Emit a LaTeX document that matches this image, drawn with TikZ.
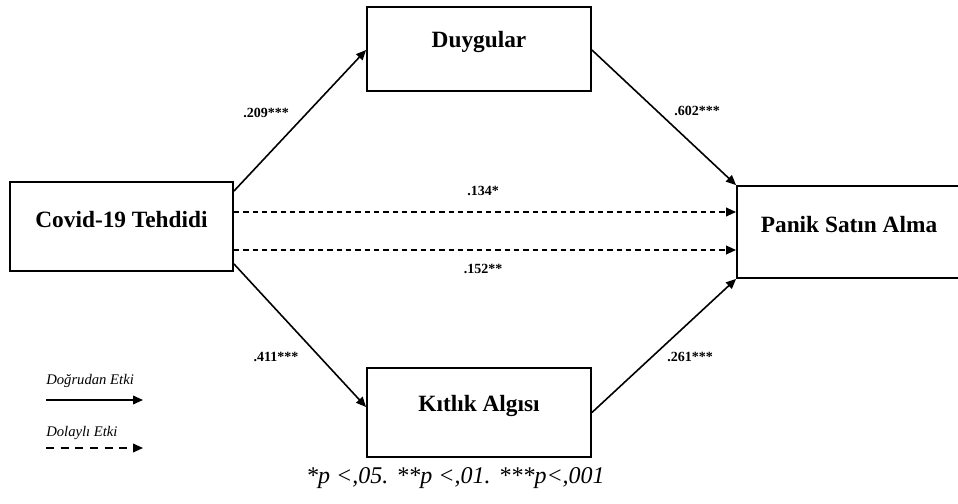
\documentclass[tikz,border=0pt]{standalone}
\usepackage{fontspec}
\setmainfont{Liberation Serif}
\usetikzlibrary{arrows.meta,calc}
\tikzset{
  box/.style={draw, line width=1.4pt, rectangle, inner sep=0pt},
  boxtext/.style={font=\bfseries\fontsize{17.5}{20}\selectfont, inner sep=0pt},
  coef/.style={font=\bfseries\fontsize{10.5}{12}\selectfont, inner sep=0pt},
  legtext/.style={font=\itshape\fontsize{11}{13}\selectfont, inner sep=0pt, anchor=west},
  headtip/.tip={Triangle[length=7.5pt,width=6.5pt]},
  solidarrow/.style={line width=1.2pt, -headtip},
  dasharrow/.style={line width=1.3pt, dash pattern=on 4pt off 3pt, -headtip},
  legdash/.style={line width=1.3pt, dash pattern=on 6pt off 5pt, -headtip}
}
\begin{document}
\begin{tikzpicture}[x=0.75pt,y=-0.75pt]
\useasboundingbox (0,0) rectangle (958,504);
\clip (0,0) rectangle (958,504);
\fill[white] (0,0) rectangle (958,504);

% boxes
\node[box, minimum width=167.25pt, minimum height=66.75pt] (cov) at (121.5,226.5) {};
\node[box, minimum width=168pt, minimum height=63pt] (duy) at (479,49) {};
\node[box, minimum width=168pt, minimum height=66.75pt] (kit) at (479,412.5) {};
\node[box, minimum width=168pt, minimum height=69pt] (pan) at (849,232) {};

% box texts
\node[boxtext] (covt) at (121.5,219.5) {Covid-19 Tehdidi};
\node[boxtext] (duyt) at (479,42) {Duygular};
\node[boxtext] (kitt) at (479,405.5) {Kıtlık Algısı};
\node[boxtext] (pant) at (849,225) {Panik Satın Alma};

% direct paths
\draw[solidarrow] ($(cov.north east)+(0,10)$) -- ($(duy.west)+(0,1)$);
\draw[solidarrow] ($(duy.east)+(0,1)$) -- (pan.north west);
\draw[solidarrow] ($(cov.south east)+(0,-8)$) -- ($(kit.west)+(0,-5.5)$);
\draw[solidarrow] (kit.east) -- (pan.south west);

% dashed paths
\coordinate (d1s) at ($(cov.east)+(0,-14.5)$);
\coordinate (d2s) at ($(cov.east)+(0,23.5)$);
\draw[dasharrow] (d1s) -- (pan.west |- d1s);
\draw[dasharrow] (d2s) -- (pan.west |- d2s);

% coefficients
\node[coef] (c1) at (266,113) {.209***};
\node[coef] (c2) at (697,111) {.602***};
\node[coef] (c3) at (483,191) {.134*};
\node[coef] (c4) at (483,269) {.152**};
\node[coef] (c5) at (276,357) {.411***};
\node[coef] (c6) at (690,357) {.261***};

% legend
\node[legtext] (l1) at (46,381) {Doğrudan Etki};
\coordinate (l1a) at (46,400);
\coordinate (l1b) at (143,400);
\draw[solidarrow] (l1a) -- (l1b);
\node[legtext] (l2) at (46,433) {Dolaylı Etki};
\coordinate (l2a) at (46,448);
\coordinate (l2b) at (143,448);
\draw[legdash] (l2a) -- (l2b);

% caption
\node[font=\itshape\fontsize{18}{21}\selectfont, inner sep=0pt, anchor=east] (cap) at (605,478) {*p <,05. **p <,01. ***p<,001};
\end{tikzpicture}
\end{document}
